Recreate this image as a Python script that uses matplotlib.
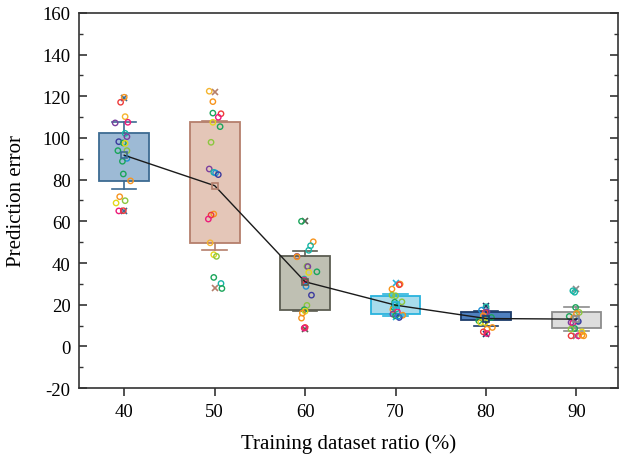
import numpy as np
import matplotlib
matplotlib.use("Agg")
import matplotlib.pyplot as plt
from matplotlib.ticker import MultipleLocator

RATIOS = ["40", "50", "60", "70", "80", "90"]

# box statistics
Q1 = [79.2, 49.6, 17.4, 15.5, 12.5, 8.9]
Q3 = [102.2, 107.5, 43.2, 24.0, 16.6, 16.6]
WHIS_LO = [75.4, 46.4, 16.9, 14.6, 9.9, 7.2]
WHIS_HI = [107.8, 108.0, 45.6, 25.0, 17.0, 19.0]
MEANS = [91.7, 77.1, 31.0, 19.8, 13.4, 13.1]
MINS = [65.1, 27.8, 8.6, 14.2, 5.8, 5.0]
MAXS = [119.3, 122.2, 60.2, 30.4, 19.5, 27.5]

# raw points per group, with their horizontal jitter and colour
O, R, P, V, I, B, T, G, L, Y, A = ("#f7941d", "#ee3b3b", "#ec1c7a", "#7b3f9e",
                                   "#3b3a9e", "#1e90d6", "#17b5a5", "#1aa55a",
                                   "#8cc63f", "#e3d81c", "#f5b52e")

PTS_40 = [119.5, 117.1, 110.2, 107.2, 107.5, 102.2, 100.6, 98.2, 97.6, 97.4, 93.9,
          93.9, 90.2, 88.8, 82.7, 79.4, 71.8, 69.9, 68.8, 65.0, 65.1]
JIT_40 = [0, -0.04, 0.01, -0.10, 0.04, 0.01, 0.03, -0.06, -0.01, 0.01, -0.07,
          0.03, 0.03, -0.02, -0.01, 0.07, -0.05, 0.01, -0.09, -0.06, -0.01]
COL_40 = [O, R, A, V, P, T, V, I, G, Y, G, L, B, G, G, O, O, L, Y, P, R]

PTS_50 = [122.4, 117.4, 111.9, 111.6, 109.9, 107.5, 105.4, 97.9, 85.1, 83.5, 83.2,
          82.4, 63.5, 63.0, 61.1, 49.7, 44.0, 43.2, 33.1, 30.2, 27.8]
JIT_50 = [-0.06, -0.02, -0.02, 0.07, 0.04, -0.02, 0.06, -0.04, -0.06, -0.01, 0.01,
          0.04, -0.01, -0.04, -0.07, -0.05, -0.01, 0.02, -0.01, 0.07, 0.08]
COL_50 = [A, O, G, R, P, Y, G, L, V, T, B, I, O, R, P, A, Y, L, G, T, G]

PTS_60 = [60.0, 50.2, 48.3, 46.1, 43.2, 43.0, 38.4, 38.3, 35.5, 35.8, 32.3, 31.8,
          30.7, 28.8, 24.6, 19.7, 17.6, 16.9, 16.0, 13.6, 9.1, 8.8]
JIT_60 = [-0.04, 0.09, 0.06, 0.04, -0.09, -0.09, 0.02, 0.03, 0.04, 0.13, -0.01,
          -0.01, 0.01, 0.01, 0.07, 0.02, -0.01, 0.0, -0.03, -0.04, 0.0, -0.01]
COL_60 = [G, O, T, T, V, O, L, V, Y, G, T, P, R, B, I, L, G, Y, O, O, R, P]

PTS_70 = [29.9, 29.6, 27.5, 24.6, 24.3, 21.4, 21.2, 19.8, 18.7, 18.0, 17.7, 16.6,
          15.5, 15.0, 14.7, 13.9, 14.5]
JIT_70 = [0.05, 0.04, -0.04, -0.04, 0, 0.07, -0.01, -0.01, -0.02, 0.01, -0.03,
          0.02, -0.03, 0.08, 0, 0.04, 0.03]
COL_70 = [O, R, O, L, L, L, G, T, G, T, O, P, V, O, G, I, B]

PTS_80 = [19.0, 17.4, 16.3, 16.6, 14.7, 13.9, 13.5, 12.3, 11.5, 11.5, 9.1, 8.3,
          7.0, 6.2]
JIT_80 = [0, -0.05, -0.01, 0.01, -0.03, 0.06, -0.01, -0.08, -0.06, -0.01, 0.07,
          0.01, -0.03, 0.01]
COL_80 = [T, B, R, V, O, G, T, G, Y, Y, O, O, R, P]

PTS_90 = [26.7, 26.0, 18.7, 16.3, 15.8, 14.4, 13.8, 12.3, 12.0, 11.5, 11.2, 8.6,
          8.3, 7.0, 5.1, 5.1, 5.1, 5.4]
JIT_90 = [-0.04, -0.02, -0.01, 0.03, 0, -0.08, -0.03, 0.01, 0.02, -0.06, -0.04,
          -0.02, -0.06, 0.06, -0.06, 0.02, 0.08, 0.06]
COL_90 = [T, T, G, L, O, G, O, B, I, V, P, G, L, Y, R, P, O, O]

GROUPS = [(PTS_40, JIT_40, COL_40), (PTS_50, JIT_50, COL_50), (PTS_60, JIT_60, COL_60),
          (PTS_70, JIT_70, COL_70), (PTS_80, JIT_80, COL_80), (PTS_90, JIT_90, COL_90)]

FILLS = ["#9dbad5", "#e4c6b8", "#bfc0b3", "#a8dcec", "#4f80bf", "#dddddd"]
EDGES = ["#3d6b92", "#b57f6c", "#5c5d52", "#29b3dd", "#1d3c6a", "#8c8c8c"]

plt.rcParams["font.family"] = ["Liberation Serif", "DejaVu Serif"]
plt.rcParams["axes.unicode_minus"] = False

fig = plt.figure(figsize=(6.22, 4.60), dpi=100)
ax = fig.add_axes([0.127, 0.154, 0.866, 0.816])

pos = np.arange(len(RATIOS))
for i in pos:
    st = [dict(med=(Q1[i] + Q3[i]) / 2, q1=Q1[i], q3=Q3[i], whislo=WHIS_LO[i],
               whishi=WHIS_HI[i], mean=MEANS[i], fliers=[])]
    ax.bxp(st, positions=[i], widths=0.55, capwidths=0.27, patch_artist=True,
           showmeans=False, showfliers=False,
           boxprops=dict(facecolor=FILLS[i], edgecolor=EDGES[i], linewidth=1.3),
           whiskerprops=dict(color=EDGES[i], linewidth=1.2),
           capprops=dict(color=EDGES[i], linewidth=1.2),
           medianprops=dict(visible=False), manage_ticks=False)
    ax.plot([i, i], [MINS[i], MAXS[i]], ls="none", marker="x", ms=4.5, mew=1.2,
            color=EDGES[i], zorder=4)

for i, (vals, jit, cols) in enumerate(GROUPS):
    ax.scatter(i + np.array(jit), vals, s=15, facecolors="none", edgecolors=cols,
               linewidths=1.0, zorder=5)

ax.plot(pos, MEANS, color="#1a1a1a", lw=1.0, zorder=6)
for i in pos:
    ax.plot(i, MEANS[i], marker="s", ms=4.5, mfc="none", mec=EDGES[i], mew=1.2,
            zorder=7)

ax.set_xlim(-0.5, 5.455)
ax.set_ylim(-20, 160)
ax.set_xticks(pos)
ax.set_xticklabels(RATIOS)
ax.yaxis.set_major_locator(MultipleLocator(20))
ax.yaxis.set_minor_locator(MultipleLocator(10))
ax.tick_params(axis="y", which="both", direction="in", right=True, labelsize=13.5,
               color="#333333", pad=6)
ax.tick_params(axis="y", which="major", length=6, width=1.2)
ax.tick_params(axis="y", which="minor", length=3, width=1.0)
ax.tick_params(axis="x", direction="out", length=6, width=1.2, labelsize=13.5,
               color="#333333", pad=5)
for sp in ax.spines.values():
    sp.set_color("#333333")
    sp.set_linewidth(1.2)

ax.set_xlabel("Training dataset ratio (%)", fontsize=15, labelpad=9)
ax.set_ylabel("Prediction error", fontsize=15)
ax.yaxis.set_label_coords(-0.098, 0.5)

fig.savefig("out.png", dpi=100)
